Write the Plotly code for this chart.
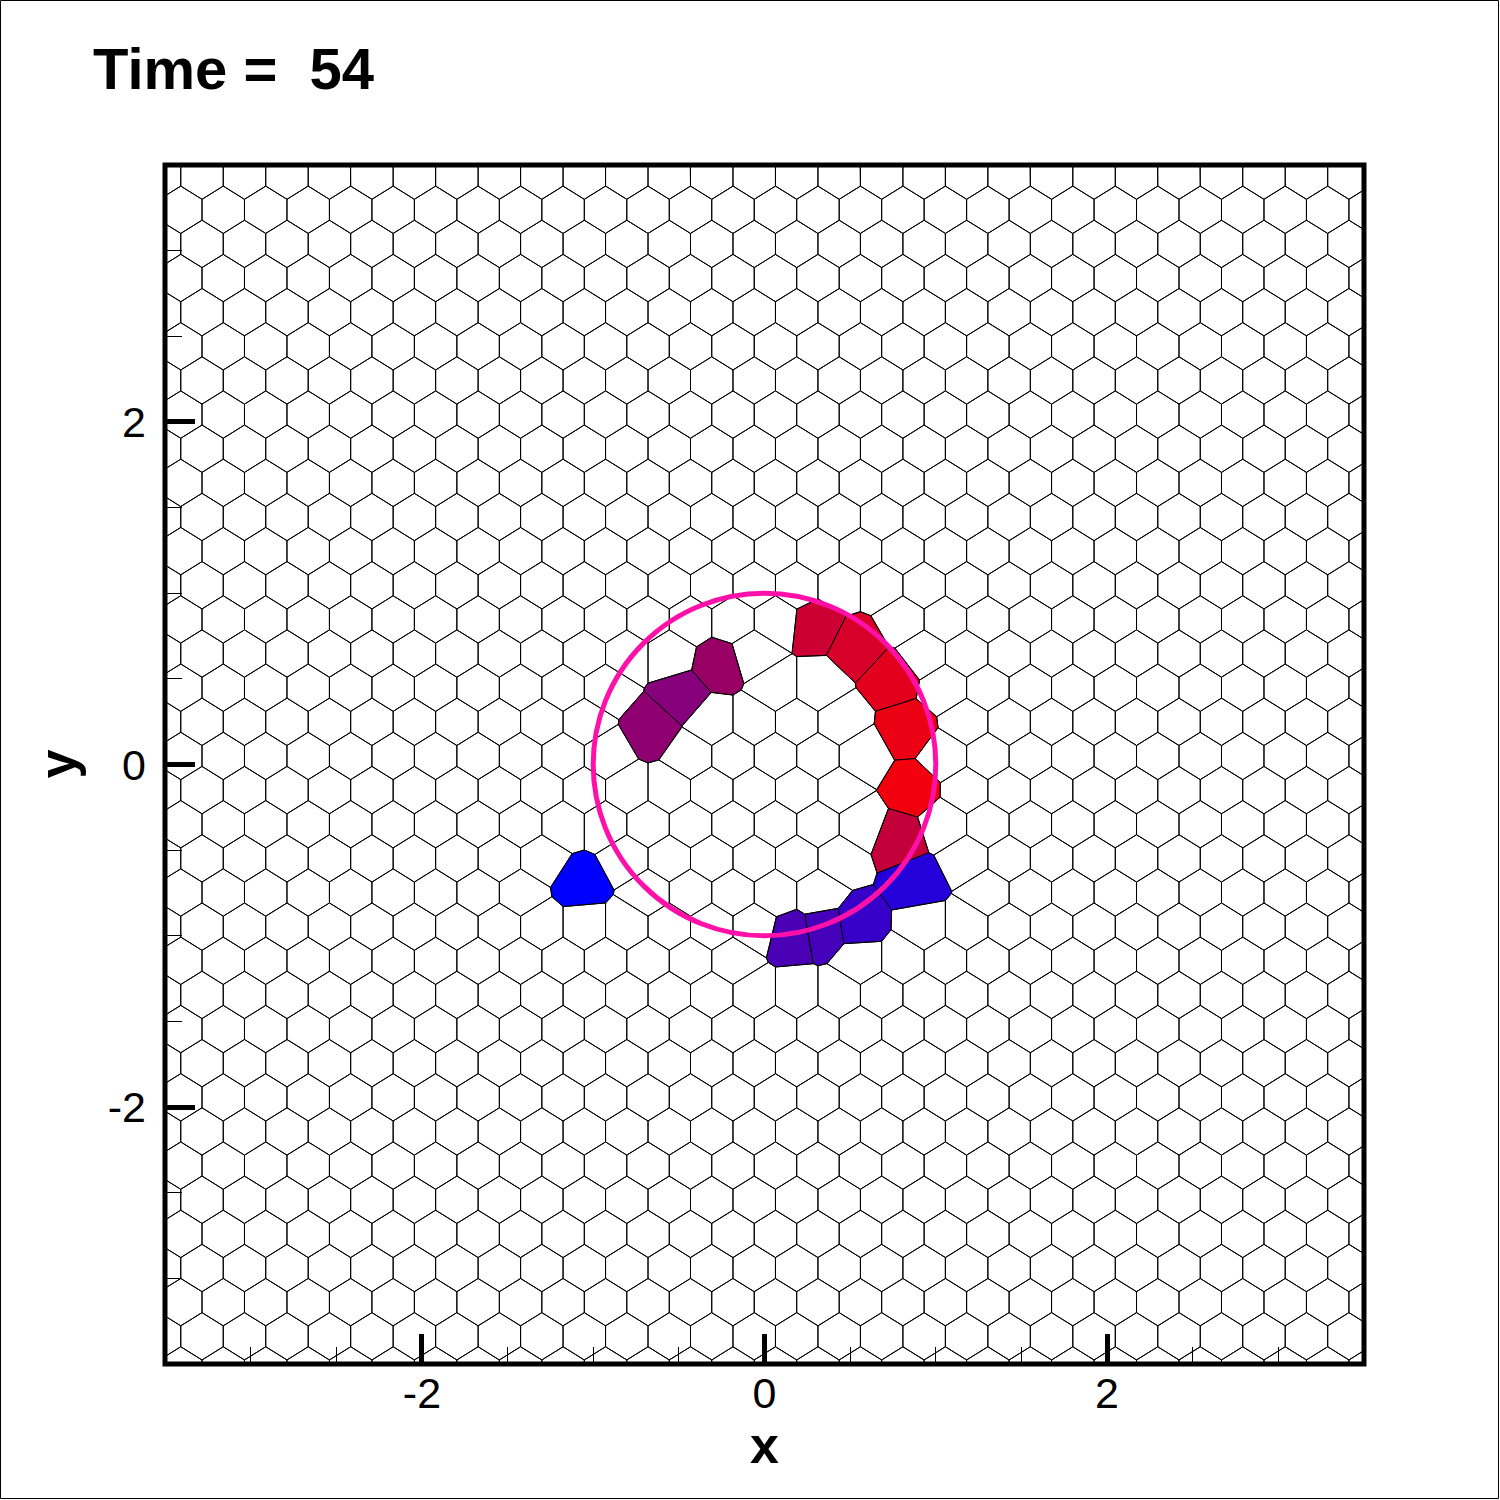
import numpy as np
import plotly.graph_objects as go

# ---------------- data ----------------
time_value = 54
x_range = [-3.5, 3.5]
y_range = [-3.5, 3.5]
tick_values = [-2, 0, 2]
tick_labels = ["-2", "0", "2"]

# highlighted mesh cells: centre x, centre y, scalar value (0 = blue ... 1 = red)
cell_x = [-0.656, -0.481, -0.267, 0.298, 0.547, 0.749, 0.843, 0.872, 0.785, 0.887, 0.158, 0.350, 0.547, -1.074]
cell_y = [0.209, 0.400, 0.587, 0.821, 0.695, 0.506, 0.208, -0.142, -0.434, -0.693, -1.000, -0.967, -0.935, -0.693]
cell_val = [0.56, 0.52, 0.60, 0.80, 0.84, 0.89, 0.92, 0.95, 0.77, 0.14, 0.29, 0.27, 0.21, 0.0]

# reference circle
circle_cx, circle_cy, circle_r = 0.0, 0.0, 1.0

# background mesh lattice (cell spacing)
mesh_x0, mesh_y0 = -3.284, 3.438
mesh_dx, mesh_dy = 0.248, 0.1993
mesh_clear = 0.21

# ---------------- mesh construction ----------------
seeds = []
for j in range(-2, 38):
    for i in range(-2, 31):
        sx = mesh_x0 + (i + 0.5 * (j % 2)) * mesh_dx
        sy = mesh_y0 - j * mesh_dy
        if abs(sx) < 3.9 and abs(sy) < 3.9:
            seeds.append((sx, sy))
seeds = np.array(seeds)
cx = np.array(cell_x)
cy = np.array(cell_y)
d = np.sqrt((seeds[:, 0:1] - cx[None, :]) ** 2 + (seeds[:, 1:2] - cy[None, :]) ** 2)
seeds = seeds[d.min(axis=1) > mesh_clear]
n_lat = len(seeds)
all_seeds = np.vstack([seeds, np.column_stack([cx, cy])])


def clip(poly, a, b, c):
    out = []
    n = len(poly)
    for k in range(n):
        P = poly[k]
        Q = poly[(k + 1) % n]
        fp = a * P[0] + b * P[1] - c
        fq = a * Q[0] + b * Q[1] - c
        if fp <= 0:
            out.append(P)
        if fp * fq < 0:
            t = fp / (fp - fq)
            out.append((P[0] + t * (Q[0] - P[0]), P[1] + t * (Q[1] - P[1])))
    return out


box = [(x_range[0], y_range[0]), (x_range[1], y_range[0]), (x_range[1], y_range[1]), (x_range[0], y_range[1])]


def cell_poly(k):
    p = all_seeds[k]
    dist = np.hypot(all_seeds[:, 0] - p[0], all_seeds[:, 1] - p[1])
    idx = np.where((dist < 0.8) & (dist > 1e-9))[0]
    idx = idx[np.argsort(dist[idx])]
    poly = list(box)
    for q_i in idx:
        q = all_seeds[q_i]
        a = q[0] - p[0]
        b = q[1] - p[1]
        c = a * (p[0] + q[0]) / 2 + b * (p[1] + q[1]) / 2
        poly = clip(poly, a, b, c)
        if not poly:
            break
    return poly


mx, my = [], []
for k in range(n_lat):
    poly = cell_poly(k)
    if len(poly) < 3:
        continue
    for (u, v) in poly:
        mx.append(u)
        my.append(v)
    mx.append(poly[0][0])
    my.append(poly[0][1])
    mx.append(None)
    my.append(None)

fig = go.Figure()


def val_color(v):
    return "rgb(%d,0,%d)" % (round(255 * v), round(255 * (1 - v)))


for m in range(len(cell_x)):
    poly = cell_poly(n_lat + m)
    px = [p[0] for p in poly] + [poly[0][0]]
    py = [p[1] for p in poly] + [poly[0][1]]
    fig.add_trace(go.Scatter(x=px, y=py, mode="lines", fill="toself",
                             fillcolor=val_color(cell_val[m]),
                             line=dict(color="black", width=1), hoverinfo="skip", showlegend=False))

fig.add_trace(go.Scatter(x=mx, y=my, mode="lines", line=dict(color="black", width=1),
                         hoverinfo="skip", showlegend=False))

# ---------------- layout ----------------
L, R, T, B = 165, 136, 165, 136
W = H = 1500
pw = W - L - R
ph = H - T - B
font_family = "Liberation Sans, Arial, sans-serif"

axis_common = dict(
    showgrid=False, zeroline=False, showline=False,
    ticks="inside", tickmode="array", tickvals=tick_values, ticktext=tick_labels,
    ticklen=30, tickwidth=5, tickcolor="black",
    tickfont=dict(family=font_family, size=43, color="black"),
    minor=dict(ticks="inside", tickmode="linear", dtick=0.5, tick0=0, ticklen=17, tickwidth=1,
               tickcolor="black", showgrid=False),
)
fig.update_layout(
    width=W, height=H,
    margin=dict(l=L, r=R, t=T, b=B),
    paper_bgcolor="white", plot_bgcolor="white",
    hovermode=False, showlegend=False,
    xaxis=dict(range=x_range, ticklabelstandoff=0, **axis_common),
    yaxis=dict(range=y_range, ticklabelstandoff=18, **axis_common),
)

fig.add_shape(type="circle", xref="x", yref="y",
              x0=circle_cx - circle_r, x1=circle_cx + circle_r,
              y0=circle_cy - circle_r, y1=circle_cy + circle_r,
              line=dict(color="#FF10A8", width=5), layer="above")
fig.add_shape(type="rect", xref="paper", yref="paper", x0=0, x1=1, y0=0, y1=1,
              line=dict(color="black", width=5), layer="above")
fig.add_shape(type="rect", xref="paper", yref="paper",
              x0=(0.5 - L) / pw, x1=(W - 1.5 - L) / pw,
              y0=-(H - 1.5 - (T + ph)) / ph, y1=1 + (T - 0.5) / ph,
              line=dict(color="black", width=1), layer="above")

fig.add_annotation(text="Time =\u00a0\u00a0%d" % time_value, xref="paper", yref="paper",
                   x=(91 - L) / pw, y=1 + (T - 68.5) / ph, xanchor="left", yanchor="middle",
                   showarrow=False, font=dict(family=font_family, size=58, color="black", weight="bold"))
fig.add_annotation(text="x", xref="x", yref="paper", x=0, y=-(1445 - (T + ph)) / ph,
                   xanchor="center", yanchor="middle", showarrow=False,
                   font=dict(family=font_family, size=52, color="black", weight="bold"))
fig.add_annotation(text="y", xref="paper", yref="y", x=(56 - L) / pw, y=0, textangle=-90,
                   xanchor="center", yanchor="middle", showarrow=False,
                   font=dict(family=font_family, size=52, color="black", weight="bold"))

fig.write_html("out.html")
